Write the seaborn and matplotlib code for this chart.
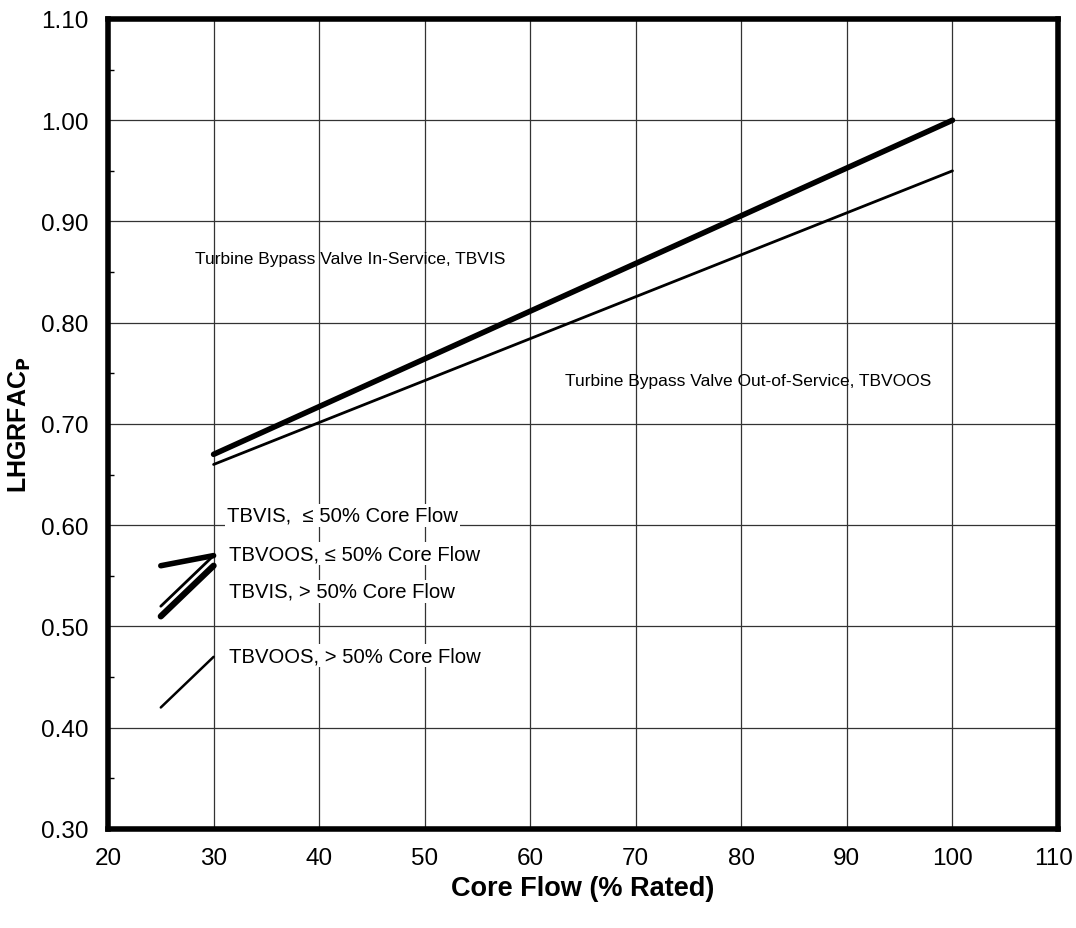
import pandas as pd
import numpy as np
import matplotlib
matplotlib.use("Agg")
import matplotlib.pyplot as plt
import matplotlib.transforms as mtransforms
import seaborn as sns

# Curve data (core flow %, LHGRFAC_P)
tbvis_flow = [30, 100]
tbvis_fac = [0.67, 1.00]
tbvoos_flow = [30, 100]
tbvoos_fac = [0.66, 0.95]

# low-power segments (25-30% flow)
seg_flow = [25, 30]
tbvis_le50 = [0.56, 0.57]
tbvoos_le50 = [0.52, 0.57]
tbvis_gt50 = [0.51, 0.56]
tbvoos_gt50 = [0.42, 0.47]

x_ticks = [20, 30, 40, 50, 60, 70, 80, 90, 100, 110]
y_ticks = [0.30, 0.40, 0.50, 0.60, 0.70, 0.80, 0.90, 1.00, 1.10]

sns.set_style("white")
plt.rcParams['font.family'] = ['Liberation Sans', 'DejaVu Sans']
plt.rcParams['text.color'] = 'black'
plt.rcParams['axes.labelcolor'] = 'black'
plt.rcParams['xtick.color'] = 'black'
plt.rcParams['ytick.color'] = 'black'

fig = plt.figure(figsize=(10.76, 9.29), dpi=100)
ax = fig.add_axes([0.1004, 0.1066, 0.8829, 0.8719])

def seg(x, y, lw):
    df = pd.DataFrame({"flow": x, "fac": y})
    sns.lineplot(data=df, x="flow", y="fac", ax=ax, color="black", linewidth=lw)

seg(tbvis_flow, tbvis_fac, 4)
seg(tbvoos_flow, tbvoos_fac, 2)
seg(seg_flow, tbvis_le50, 4)
seg(seg_flow, tbvoos_le50, 2)
seg(seg_flow, tbvis_gt50, 4.5)
seg(seg_flow, tbvoos_gt50, 1.8)

ax.set_xlim(20, 110)
ax.set_ylim(0.30, 1.10)
ax.set_xticks(x_ticks)
ax.set_yticks(y_ticks)
ax.set_yticklabels([f"{v:.2f}" for v in y_ticks])
ax.set_yticks(np.arange(0.35, 1.10, 0.1), minor=True)
ax.tick_params(axis="both", which="major", labelsize=17.5, length=0, pad=13)
ax.tick_params(axis="y", which="major", pad=14)
ax.tick_params(axis="y", which="minor", direction="in", length=4, width=1, left=True)
ax.grid(True, which="major", color="#333333", linewidth=0.9)
ax.set_axisbelow(True)
for s in ax.spines.values():
    s.set_linewidth(4)
    s.set_color("black")

# nudge the last x label so it stays inside the figure
last = ax.get_xticklabels()[-1]
last.set_transform(last.get_transform() + mtransforms.ScaledTranslation(-4 / 100, 0, fig.dpi_scale_trans))

ax.set_xlabel("Core Flow (% Rated)", fontsize=19.5, fontweight="bold", labelpad=4)
ax.set_ylabel(r"LHGRFAC$_\mathbf{P}$", fontsize=18, fontweight="bold")
ax.yaxis.set_label_coords(-0.079, 0.5)

ax.text(28.2, 0.863, "Turbine Bypass Valve In-Service, TBVIS", fontsize=12.5, va="center")
ax.text(63.3, 0.743, "Turbine Bypass Valve Out-of-Service, TBVOOS", fontsize=12.5, va="center")
box = dict(facecolor="white", edgecolor="none", pad=1.5)
ax.text(31.3, 0.610, "TBVIS,  \u2264 50% Core Flow", fontsize=14.6, va="center", bbox=box)
ax.text(31.5, 0.572, "TBVOOS, \u2264 50% Core Flow", fontsize=14.6, va="center", bbox=box)
ax.text(31.5, 0.535, "TBVIS, > 50% Core Flow", fontsize=14.6, va="center", bbox=box)
ax.text(31.5, 0.471, "TBVOOS, > 50% Core Flow", fontsize=14.6, va="center", bbox=box)

plt.savefig("out.png", dpi=100)
